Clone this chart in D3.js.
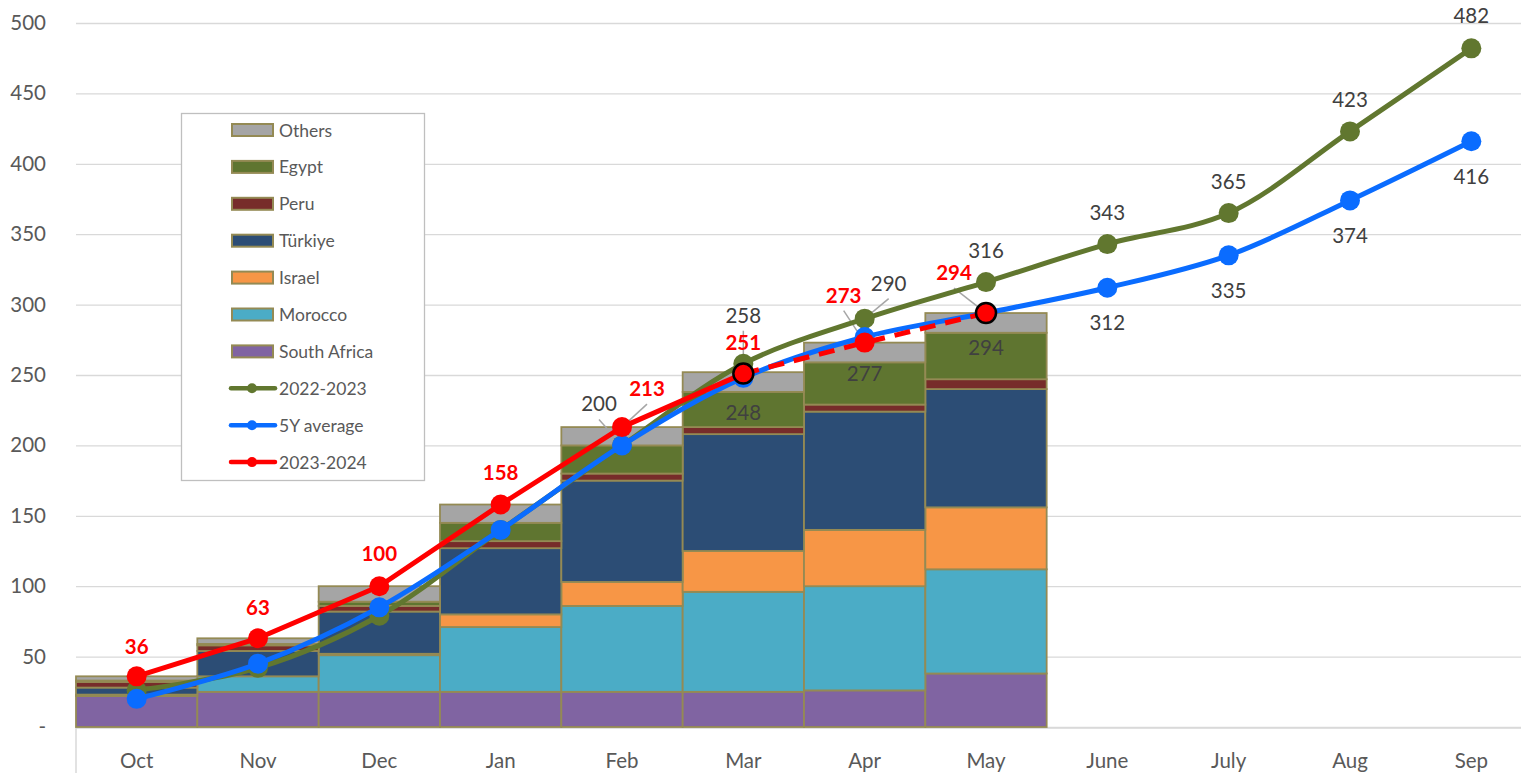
<!DOCTYPE html>
<html>
<head>
<meta charset="utf-8">
<script src="https://cdnjs.cloudflare.com/ajax/libs/d3/7.8.5/d3.min.js"></script>
<style>
	body { margin: 0; background: #fff; }
	svg { display: block; font-family: Lato, "Open Sans", sans-serif; }
</style>
</head>
<body>
<div class="wrapper"></div>
<script>

// ---------------- data ---------------- //

var months = ["Oct", "Nov", "Dec", "Jan", "Feb", "Mar", "Apr", "May", "June", "July", "Aug", "Sep"];

// stacked bars, 2023-2024 by origin (Oct..May)
var southAfrica = [22, 25, 25, 25, 25, 25, 26, 38];
var morocco     = [1, 11, 26, 46, 61, 71, 74, 74];
var israel      = [0, 0, 1, 9, 17, 29, 40, 44];
var turkiye     = [5, 18, 30, 47, 72, 83, 84, 84];
var peru        = [4, 4, 4, 5, 5, 5, 5, 7];
var egypt       = [1, 1, 3, 13, 20, 25, 30, 33];
var others      = [3, 4, 11, 13, 13, 14, 14, 14];

// lines
var season2223 = [26, 42, 79, 140, 200, 258, 290, 316, 343, 365, 423, 482];
var avg5y      = [20, 45, 85, 140, 200, 248, 277, 294, 312, 335, 374, 416];
var season2324 = [36, 63, 100, 158, 213, 251, 273, 294];

var yTicks = [0, 50, 100, 150, 200, 250, 300, 350, 400, 450, 500];

// ---------------- setup ---------------- //

var W = 1521, H = 773,
	LEFT = 76, RIGHT = 1532,
	TOP = 23, BOTTOM = 727;

var TEXT_GREY = "#595959",
	LABEL_GREY = "#404040",
	BAR_STROKE = "#948A54",
	GREEN = "#61772F",
	BLUE = "#0A6CFF",
	RED = "#FF0000";

var stackKeys = [
	{name: "South Africa", values: southAfrica, color: "#8064A2"},
	{name: "Morocco", values: morocco, color: "#4BACC6"},
	{name: "Israel", values: israel, color: "#F79646"},
	{name: "Türkiye", values: turkiye, color: "#2C4D75"},
	{name: "Peru", values: peru, color: "#772C2A"},
	{name: "Egypt", values: egypt, color: "#5F7530"},
	{name: "Others", values: others, color: "#A5A5A5"}
];

var svg = d3.select(".wrapper")
	.append("svg")
		.attr("width", W)
		.attr("height", H);

var x = d3.scaleBand()
	.domain(months)
	.range([LEFT, RIGHT])
	.padding(0);

var y = d3.scaleLinear()
	.domain([0, 500])
	.range([BOTTOM, TOP]);

function cx(i) { return x(months[i]) + x.bandwidth() / 2; }

// gridlines
svg.append("g")
	.attr("transform", "translate(" + LEFT + ",0)")
	.call(d3.axisLeft(y).tickValues(yTicks).tickSize(-(RIGHT - LEFT)).tickFormat(""))
	.call(function(g) {
		g.select(".domain").remove();
		g.selectAll("line").attr("stroke", "#D9D9D9").attr("stroke-width", 1.3);
	});

// y axis labels
svg.append("g")
	.attr("transform", "translate(" + (LEFT - 27) + ",0)")
	.call(d3.axisLeft(y).tickValues(yTicks).tickSize(0)
		.tickFormat(function(d) { return d === 0 ? "-" : d; }))
	.call(function(g) {
		g.select(".domain").remove();
		g.selectAll("text")
			.attr("fill", TEXT_GREY)
			.attr("font-size", 20.5)
			.attr("font-family", "Lato, 'Open Sans', sans-serif");
	});

// x axis
svg.append("line")
	.attr("x1", LEFT).attr("x2", RIGHT)
	.attr("y1", BOTTOM + 1).attr("y2", BOTTOM + 1)
	.attr("stroke", "#D9D9D9").attr("stroke-width", 1.3);
svg.append("line")
	.attr("x1", LEFT).attr("x2", LEFT)
	.attr("y1", BOTTOM).attr("y2", H)
	.attr("stroke", "#D9D9D9").attr("stroke-width", 1.5);

svg.append("g")
	.attr("transform", "translate(0," + (BOTTOM + 23) + ")")
	.call(d3.axisBottom(x).tickSize(0))
	.call(function(g) {
		g.select(".domain").remove();
		g.selectAll("text")
			.attr("fill", TEXT_GREY)
			.attr("font-size", 20.5)
			.attr("font-family", "Lato, 'Open Sans', sans-serif");
	});

// ---------------- stacked bars ---------------- //

var stackRows = southAfrica.map(function(d, i) {
	var row = {month: months[i]};
	stackKeys.forEach(function(k) { row[k.name] = k.values[i]; });
	return row;
});

var series = d3.stack().keys(stackKeys.map(function(k) { return k.name; }))(stackRows);

svg.append("g").selectAll("g")
	.data(series)
	.enter()
	.append("g")
		.attr("fill", function(d, i) { return stackKeys[i].color; })
	.selectAll("rect")
	.data(function(d) { return d; })
	.enter()
	.append("rect")
		.attr("x", function(d) { return x(d.data.month); })
		.attr("y", function(d) { return y(d[1]); })
		.attr("width", x.bandwidth())
		.attr("height", function(d) { return y(d[0]) - y(d[1]); })
		.attr("stroke", BAR_STROKE)
		.attr("stroke-width", 1.8);

// ---------------- lines ---------------- //

var line = d3.line()
	.x(function(d) { return cx(d.i); })
	.y(function(d) { return y(d.v); })
	.curve(d3.curveCatmullRom.alpha(0.5));

var straight = d3.line()
	.x(function(d) { return cx(d.i); })
	.y(function(d) { return y(d.v); });

function pts(arr) { return arr.map(function(v, i) { return {v: v, i: i}; }); }

var layerLeaders = svg.append("g");

function drawSeries(arr, color) {
	svg.append("path")
		.attr("d", line(pts(arr)))
		.attr("fill", "none")
		.attr("stroke", color)
		.attr("stroke-width", 5);
	svg.append("g").selectAll("circle")
		.data(pts(arr))
		.enter()
		.append("circle")
			.attr("cx", function(d) { return cx(d.i); })
			.attr("cy", function(d) { return y(d.v); })
			.attr("r", 10)
			.attr("fill", color);
}

drawSeries(season2223, GREEN);
drawSeries(avg5y, BLUE);

// 2023-2024: solid until Mar, dashed after
var redPts = pts(season2324);
svg.append("path")
	.attr("d", straight(redPts.slice(0, 6)))
	.attr("fill", "none")
	.attr("stroke", RED)
	.attr("stroke-width", 5)
	.attr("stroke-linejoin", "round");
svg.append("path")
	.attr("d", straight(redPts.slice(5)))
	.attr("fill", "none")
	.attr("stroke", RED)
	.attr("stroke-width", 5)
	.attr("stroke-dasharray", "16,10");
svg.append("g").selectAll("circle")
	.data(redPts)
	.enter()
	.append("circle")
		.attr("cx", function(d) { return cx(d.i); })
		.attr("cy", function(d) { return y(d.v); })
		.attr("r", 10)
		.attr("fill", RED)
		.attr("stroke", function(d) { return (d.i === 5 || d.i === 7) ? "#000" : "none"; })
		.attr("stroke-width", 2.5);

// ---------------- data labels ---------------- //

// label offsets from the point, [dx, dy, leader?]
var greenOffsets = {4: [-23, -42, 1], 5: [0, -49, 1], 6: [24, -36, 1], 7: [0, -32], 8: [0, -32], 9: [0, -32], 10: [0, -32], 11: [0, -33]};
var blueOffsets  = {5: [0, 34], 6: [0, 36], 7: [0, 34], 8: [0, 34], 9: [0, 35], 10: [0, 35], 11: [0, 35]};
var redOffsets   = {0: [0, -30], 1: [0, -31], 2: [0, -33], 3: [0, -33], 4: [25, -39, 1], 5: [0, -32], 6: [-21, -48, 1], 7: [-32, -41, 1]};

function drawLabels(arr, offsets, color, bold) {
	Object.keys(offsets).forEach(function(k) {
		var i = +k, o = offsets[k],
			px = cx(i), py = y(arr[i]),
			lx = px + o[0], ly = py + o[1];
		if (o[2]) {
			layerLeaders.append("line")
				.attr("x1", lx).attr("y1", ly + 16)
				.attr("x2", px).attr("y2", py)
				.attr("stroke", "#A6A6A6")
				.attr("stroke-width", 1.5);
		}
		svg.append("text")
			.attr("x", lx)
			.attr("y", ly)
			.attr("text-anchor", "middle")
			.attr("dominant-baseline", "central")
			.attr("font-size", 20.5)
			.attr("font-weight", bold ? "bold" : "normal")
			.attr("fill", color)
			.text(arr[i]);
	});
}

drawLabels(season2223, greenOffsets, LABEL_GREY, false);
drawLabels(avg5y, blueOffsets, LABEL_GREY, false);
drawLabels(season2324, redOffsets, RED, true);

// ---------------- legend ---------------- //

var legend = svg.append("g");
legend.append("rect")
	.attr("x", 181.5).attr("y", 113.5)
	.attr("width", 243).attr("height", 367)
	.attr("fill", "#fff")
	.attr("stroke", "#BFBFBF")
	.attr("stroke-width", 1.3);

var legendItems = stackKeys.slice().reverse().map(function(k) {
	return {name: k.name, color: k.color, type: "bar"};
}).concat([
	{name: "2022-2023", color: GREEN, type: "line"},
	{name: "5Y average", color: BLUE, type: "line"},
	{name: "2023-2024", color: RED, type: "line"}
]);

var rows = legend.selectAll("g.item")
	.data(legendItems)
	.enter()
	.append("g")
		.attr("class", "item")
		.attr("transform", function(d, i) { return "translate(0," + (130 + i * 36.9) + ")"; });

rows.filter(function(d) { return d.type === "bar"; })
	.append("rect")
		.attr("x", 232).attr("y", -6)
		.attr("width", 41).attr("height", 12)
		.attr("fill", function(d) { return d.color; })
		.attr("stroke", BAR_STROKE)
		.attr("stroke-width", 2);

var lineRows = rows.filter(function(d) { return d.type === "line"; });
lineRows.append("line")
	.attr("x1", 231).attr("x2", 275)
	.attr("y1", 0).attr("y2", 0)
	.attr("stroke", function(d) { return d.color; })
	.attr("stroke-width", 4.5)
	.attr("stroke-linecap", "round");
lineRows.append("circle")
	.attr("cx", 252).attr("cy", 0).attr("r", 5)
	.attr("fill", function(d) { return d.color; });

rows.append("text")
	.attr("x", 279)
	.attr("y", 0)
	.attr("dominant-baseline", "central")
	.attr("font-size", 17.5)
	.attr("fill", TEXT_GREY)
	.text(function(d) { return d.name; });

</script>
</body>
</html>
